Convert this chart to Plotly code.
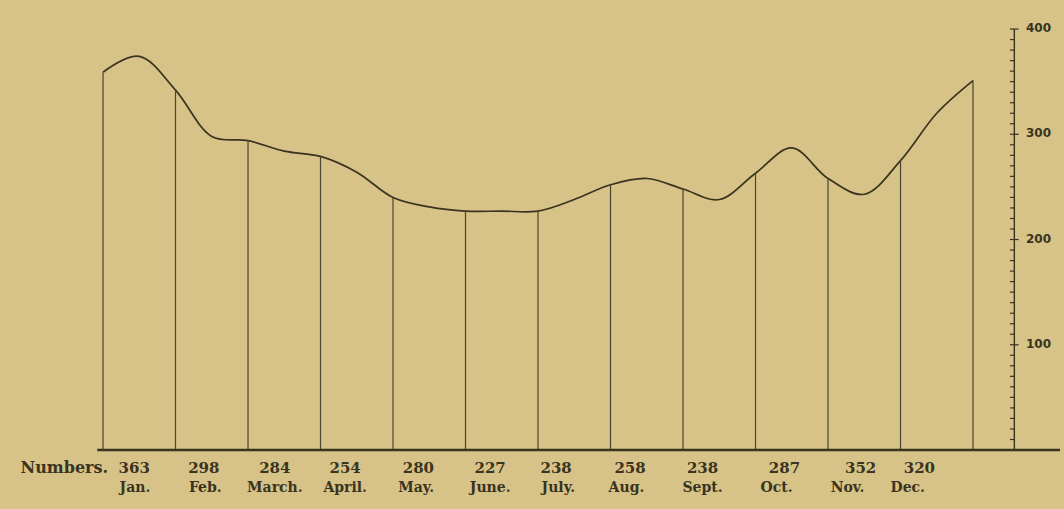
import plotly.graph_objects as go

# Monthly figures printed under the chart
months = ["Jan.", "Feb.", "March.", "April.", "May.", "June.",
          "July.", "Aug.", "Sept.", "Oct.", "Nov.", "Dec."]
numbers = [363, 298, 284, 254, 280, 227, 238, 258, 238, 287, 352, 320]

# Level of the curve at each month boundary (13 values) and at mid-month (12 values)
boundary_levels = [359, 342, 294, 279, 240, 227, 227, 252, 248, 263, 258, 275, 351]
mid_levels = [374, 298, 284, 264, 231, 227, 238, 258, 238, 287, 243, 320]

# Scale on the right-hand side
scale_ticks = [100, 200, 300, 400]

# ---- layout helpers (positions in month units) ----
ink = "#39341f"
rule_ink = "#4a4530"
paper = "#d7c287"
serif = "DejaVu Serif"
number_x = [0.43, 1.39, 2.37, 3.34, 4.35, 5.34, 6.25, 7.27, 8.27, 9.40, 10.45, 11.26]
month_x = [0.44, 1.41, 2.37, 3.34, 4.32, 5.34, 6.28, 7.22, 8.27, 9.29, 10.27, 11.10]
axis_x = 12.57
tick_len = 0.06

fig = go.Figure()

# Smooth curve through boundary and mid-month levels
curve_x, curve_y = [], []
for i in range(12):
    curve_x += [i, i + 0.5]
    curve_y += [boundary_levels[i], mid_levels[i]]
curve_x.append(12)
curve_y.append(boundary_levels[12])
fig.add_trace(go.Scatter(x=curve_x, y=curve_y, mode="lines",
                         line=dict(color=ink, width=1.7, shape="spline", smoothing=1.0),
                         hoverinfo="skip", showlegend=False))

# Vertical rules at the month boundaries
for i, lvl in enumerate(boundary_levels):
    fig.add_shape(type="line", x0=i, x1=i, y0=0, y1=lvl,
                  line=dict(color=rule_ink, width=1.2))

# Base line
fig.add_shape(type="line", x0=-0.08, x1=13.2, y0=0, y1=0,
              line=dict(color=ink, width=2.4))

# Right-hand scale with minor ticks every 10
fig.add_shape(type="line", x0=axis_x, x1=axis_x, y0=0, y1=400,
              line=dict(color=ink, width=1.4))
for v in range(10, 401, 10):
    major = v % 100 == 0
    fig.add_shape(type="line",
                  x0=axis_x - tick_len, x1=axis_x + (tick_len if major else 0),
                  y0=v, y1=v, line=dict(color=ink, width=1.2))

fig.add_trace(go.Scatter(x=[axis_x + 0.16] * len(scale_ticks), y=scale_ticks,
                         text=[str(t) for t in scale_ticks], mode="text",
                         textposition="middle right",
                         textfont=dict(family="DejaVu Sans", size=12, color=ink, weight="bold"),
                         hoverinfo="skip", showlegend=False))

# Row of numbers and month names
fig.add_trace(go.Scatter(x=number_x, y=[-18.5] * 12, text=[str(n) for n in numbers],
                         mode="text",
                         textfont=dict(family=serif, size=15, color=ink, weight="bold"),
                         hoverinfo="skip", showlegend=False))
fig.add_trace(go.Scatter(x=month_x, y=[-36.5] * 12, text=months,
                         mode="text",
                         textfont=dict(family=serif, size=14, color=ink, weight="bold"),
                         hoverinfo="skip", showlegend=False))
fig.add_trace(go.Scatter(x=[0.07], y=[-18.5], text=["Numbers."], mode="text",
                         textposition="middle left",
                         textfont=dict(family=serif, size=16, color=ink, weight="bold"),
                         hoverinfo="skip", showlegend=False))

fig.update_layout(
    width=1064, height=509,
    margin=dict(l=0, r=0, t=0, b=0),
    paper_bgcolor=paper, plot_bgcolor=paper,
    xaxis=dict(range=[-1.421, 13.255], visible=False, fixedrange=True),
    yaxis=dict(range=[-56.06, 427.6], visible=False, fixedrange=True),
    showlegend=False,
)

fig.write_html("out.html")
